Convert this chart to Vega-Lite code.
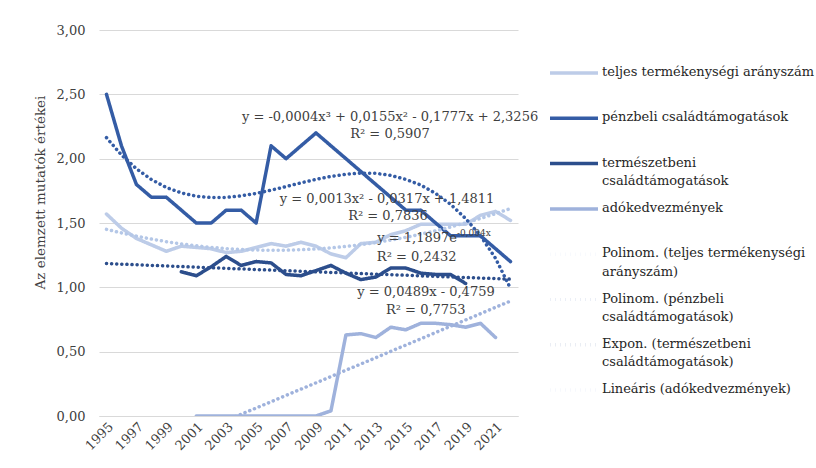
{
  "$schema": "https://vega.github.io/schema/vega-lite/v6.json",
  "width": 419,
  "height": 386,
  "autosize": {"type": "none"},
  "padding": {"left": 99, "top": 30, "right": 298, "bottom": 52},
  "background": "white",
  "config": {
    "view": {"stroke": null},
    "font": "DejaVu Serif"
  },
  "datasets": {
    "lines": [
      {"year": 1995, "value": 1.57, "series": "teljes termékenységi arányszám"},
      {"year": 1996, "value": 1.46, "series": "teljes termékenységi arányszám"},
      {"year": 1997, "value": 1.38, "series": "teljes termékenységi arányszám"},
      {"year": 1998, "value": 1.33, "series": "teljes termékenységi arányszám"},
      {"year": 1999, "value": 1.28, "series": "teljes termékenységi arányszám"},
      {"year": 2000, "value": 1.32, "series": "teljes termékenységi arányszám"},
      {"year": 2001, "value": 1.31, "series": "teljes termékenységi arányszám"},
      {"year": 2002, "value": 1.30, "series": "teljes termékenységi arányszám"},
      {"year": 2003, "value": 1.27, "series": "teljes termékenységi arányszám"},
      {"year": 2004, "value": 1.28, "series": "teljes termékenységi arányszám"},
      {"year": 2005, "value": 1.31, "series": "teljes termékenységi arányszám"},
      {"year": 2006, "value": 1.34, "series": "teljes termékenységi arányszám"},
      {"year": 2007, "value": 1.32, "series": "teljes termékenységi arányszám"},
      {"year": 2008, "value": 1.35, "series": "teljes termékenységi arányszám"},
      {"year": 2009, "value": 1.32, "series": "teljes termékenységi arányszám"},
      {"year": 2010, "value": 1.26, "series": "teljes termékenységi arányszám"},
      {"year": 2011, "value": 1.23, "series": "teljes termékenységi arányszám"},
      {"year": 2012, "value": 1.34, "series": "teljes termékenységi arányszám"},
      {"year": 2013, "value": 1.35, "series": "teljes termékenységi arányszám"},
      {"year": 2014, "value": 1.41, "series": "teljes termékenységi arányszám"},
      {"year": 2015, "value": 1.44, "series": "teljes termékenységi arányszám"},
      {"year": 2016, "value": 1.49, "series": "teljes termékenységi arányszám"},
      {"year": 2017, "value": 1.49, "series": "teljes termékenységi arányszám"},
      {"year": 2018, "value": 1.49, "series": "teljes termékenységi arányszám"},
      {"year": 2019, "value": 1.49, "series": "teljes termékenységi arányszám"},
      {"year": 2020, "value": 1.56, "series": "teljes termékenységi arányszám"},
      {"year": 2021, "value": 1.59, "series": "teljes termékenységi arányszám"},
      {"year": 2022, "value": 1.52, "series": "teljes termékenységi arányszám"},

      {"year": 1995, "value": 2.50, "series": "pénzbeli családtámogatások"},
      {"year": 1996, "value": 2.10, "series": "pénzbeli családtámogatások"},
      {"year": 1997, "value": 1.80, "series": "pénzbeli családtámogatások"},
      {"year": 1998, "value": 1.70, "series": "pénzbeli családtámogatások"},
      {"year": 1999, "value": 1.70, "series": "pénzbeli családtámogatások"},
      {"year": 2000, "value": 1.60, "series": "pénzbeli családtámogatások"},
      {"year": 2001, "value": 1.50, "series": "pénzbeli családtámogatások"},
      {"year": 2002, "value": 1.50, "series": "pénzbeli családtámogatások"},
      {"year": 2003, "value": 1.60, "series": "pénzbeli családtámogatások"},
      {"year": 2004, "value": 1.60, "series": "pénzbeli családtámogatások"},
      {"year": 2005, "value": 1.50, "series": "pénzbeli családtámogatások"},
      {"year": 2006, "value": 2.10, "series": "pénzbeli családtámogatások"},
      {"year": 2007, "value": 2.00, "series": "pénzbeli családtámogatások"},
      {"year": 2008, "value": 2.10, "series": "pénzbeli családtámogatások"},
      {"year": 2009, "value": 2.20, "series": "pénzbeli családtámogatások"},
      {"year": 2010, "value": 2.10, "series": "pénzbeli családtámogatások"},
      {"year": 2011, "value": 2.00, "series": "pénzbeli családtámogatások"},
      {"year": 2012, "value": 1.90, "series": "pénzbeli családtámogatások"},
      {"year": 2013, "value": 1.80, "series": "pénzbeli családtámogatások"},
      {"year": 2014, "value": 1.70, "series": "pénzbeli családtámogatások"},
      {"year": 2015, "value": 1.60, "series": "pénzbeli családtámogatások"},
      {"year": 2016, "value": 1.60, "series": "pénzbeli családtámogatások"},
      {"year": 2017, "value": 1.50, "series": "pénzbeli családtámogatások"},
      {"year": 2018, "value": 1.40, "series": "pénzbeli családtámogatások"},
      {"year": 2019, "value": 1.40, "series": "pénzbeli családtámogatások"},
      {"year": 2020, "value": 1.40, "series": "pénzbeli családtámogatások"},
      {"year": 2021, "value": 1.30, "series": "pénzbeli családtámogatások"},
      {"year": 2022, "value": 1.20, "series": "pénzbeli családtámogatások"},

      {"year": 2000, "value": 1.12, "series": "természetbeni családtámogatások"},
      {"year": 2001, "value": 1.09, "series": "természetbeni családtámogatások"},
      {"year": 2002, "value": 1.16, "series": "természetbeni családtámogatások"},
      {"year": 2003, "value": 1.24, "series": "természetbeni családtámogatások"},
      {"year": 2004, "value": 1.17, "series": "természetbeni családtámogatások"},
      {"year": 2005, "value": 1.20, "series": "természetbeni családtámogatások"},
      {"year": 2006, "value": 1.19, "series": "természetbeni családtámogatások"},
      {"year": 2007, "value": 1.10, "series": "természetbeni családtámogatások"},
      {"year": 2008, "value": 1.09, "series": "természetbeni családtámogatások"},
      {"year": 2009, "value": 1.13, "series": "természetbeni családtámogatások"},
      {"year": 2010, "value": 1.17, "series": "természetbeni családtámogatások"},
      {"year": 2011, "value": 1.11, "series": "természetbeni családtámogatások"},
      {"year": 2012, "value": 1.06, "series": "természetbeni családtámogatások"},
      {"year": 2013, "value": 1.08, "series": "természetbeni családtámogatások"},
      {"year": 2014, "value": 1.15, "series": "természetbeni családtámogatások"},
      {"year": 2015, "value": 1.15, "series": "természetbeni családtámogatások"},
      {"year": 2016, "value": 1.11, "series": "természetbeni családtámogatások"},
      {"year": 2017, "value": 1.10, "series": "természetbeni családtámogatások"},
      {"year": 2018, "value": 1.10, "series": "természetbeni családtámogatások"},
      {"year": 2019, "value": 1.03, "series": "természetbeni családtámogatások"},

      {"year": 2001, "value": 0.00, "series": "adókedvezmények"},
      {"year": 2002, "value": 0.00, "series": "adókedvezmények"},
      {"year": 2003, "value": 0.00, "series": "adókedvezmények"},
      {"year": 2004, "value": 0.00, "series": "adókedvezmények"},
      {"year": 2005, "value": 0.00, "series": "adókedvezmények"},
      {"year": 2006, "value": 0.00, "series": "adókedvezmények"},
      {"year": 2007, "value": 0.00, "series": "adókedvezmények"},
      {"year": 2008, "value": 0.00, "series": "adókedvezmények"},
      {"year": 2009, "value": 0.00, "series": "adókedvezmények"},
      {"year": 2010, "value": 0.04, "series": "adókedvezmények"},
      {"year": 2011, "value": 0.63, "series": "adókedvezmények"},
      {"year": 2012, "value": 0.64, "series": "adókedvezmények"},
      {"year": 2013, "value": 0.61, "series": "adókedvezmények"},
      {"year": 2014, "value": 0.69, "series": "adókedvezmények"},
      {"year": 2015, "value": 0.67, "series": "adókedvezmények"},
      {"year": 2016, "value": 0.72, "series": "adókedvezmények"},
      {"year": 2017, "value": 0.72, "series": "adókedvezmények"},
      {"year": 2018, "value": 0.71, "series": "adókedvezmények"},
      {"year": 2019, "value": 0.69, "series": "adókedvezmények"},
      {"year": 2020, "value": 0.72, "series": "adókedvezmények"},
      {"year": 2021, "value": 0.61, "series": "adókedvezmények"},

      {"year": 1995, "value": 1.4507, "series": "Polinom. (teljes termékenységi arányszám)"},
      {"year": 1996, "value": 1.4229, "series": "Polinom. (teljes termékenységi arányszám)"},
      {"year": 1997, "value": 1.3977, "series": "Polinom. (teljes termékenységi arányszám)"},
      {"year": 1998, "value": 1.3751, "series": "Polinom. (teljes termékenységi arányszám)"},
      {"year": 1999, "value": 1.3551, "series": "Polinom. (teljes termékenységi arányszám)"},
      {"year": 2000, "value": 1.3377, "series": "Polinom. (teljes termékenységi arányszám)"},
      {"year": 2001, "value": 1.3229, "series": "Polinom. (teljes termékenységi arányszám)"},
      {"year": 2002, "value": 1.3107, "series": "Polinom. (teljes termékenységi arányszám)"},
      {"year": 2003, "value": 1.3011, "series": "Polinom. (teljes termékenységi arányszám)"},
      {"year": 2004, "value": 1.2941, "series": "Polinom. (teljes termékenységi arányszám)"},
      {"year": 2005, "value": 1.2897, "series": "Polinom. (teljes termékenységi arányszám)"},
      {"year": 2006, "value": 1.2879, "series": "Polinom. (teljes termékenységi arányszám)"},
      {"year": 2007, "value": 1.2887, "series": "Polinom. (teljes termékenységi arányszám)"},
      {"year": 2008, "value": 1.2921, "series": "Polinom. (teljes termékenységi arányszám)"},
      {"year": 2009, "value": 1.2981, "series": "Polinom. (teljes termékenységi arányszám)"},
      {"year": 2010, "value": 1.3067, "series": "Polinom. (teljes termékenységi arányszám)"},
      {"year": 2011, "value": 1.3179, "series": "Polinom. (teljes termékenységi arányszám)"},
      {"year": 2012, "value": 1.3317, "series": "Polinom. (teljes termékenységi arányszám)"},
      {"year": 2013, "value": 1.3481, "series": "Polinom. (teljes termékenységi arányszám)"},
      {"year": 2014, "value": 1.3671, "series": "Polinom. (teljes termékenységi arányszám)"},
      {"year": 2015, "value": 1.3887, "series": "Polinom. (teljes termékenységi arányszám)"},
      {"year": 2016, "value": 1.4129, "series": "Polinom. (teljes termékenységi arányszám)"},
      {"year": 2017, "value": 1.4397, "series": "Polinom. (teljes termékenységi arányszám)"},
      {"year": 2018, "value": 1.4691, "series": "Polinom. (teljes termékenységi arányszám)"},
      {"year": 2019, "value": 1.5011, "series": "Polinom. (teljes termékenységi arányszám)"},
      {"year": 2020, "value": 1.5357, "series": "Polinom. (teljes termékenységi arányszám)"},
      {"year": 2021, "value": 1.5729, "series": "Polinom. (teljes termékenységi arányszám)"},
      {"year": 2022, "value": 1.6127, "series": "Polinom. (teljes termékenységi arányszám)"},

      {"year": 1995, "value": 2.163, "series": "Polinom. (pénzbeli családtámogatások)"},
      {"year": 1996, "value": 2.029, "series": "Polinom. (pénzbeli családtámogatások)"},
      {"year": 1997, "value": 1.922, "series": "Polinom. (pénzbeli családtámogatások)"},
      {"year": 1998, "value": 1.838, "series": "Polinom. (pénzbeli családtámogatások)"},
      {"year": 1999, "value": 1.776, "series": "Polinom. (pénzbeli családtámogatások)"},
      {"year": 2000, "value": 1.734, "series": "Polinom. (pénzbeli családtámogatások)"},
      {"year": 2001, "value": 1.708, "series": "Polinom. (pénzbeli családtámogatások)"},
      {"year": 2002, "value": 1.698, "series": "Polinom. (pénzbeli családtámogatások)"},
      {"year": 2003, "value": 1.699, "series": "Polinom. (pénzbeli családtámogatások)"},
      {"year": 2004, "value": 1.711, "series": "Polinom. (pénzbeli családtámogatások)"},
      {"year": 2005, "value": 1.730, "series": "Polinom. (pénzbeli családtámogatások)"},
      {"year": 2006, "value": 1.755, "series": "Polinom. (pénzbeli családtámogatások)"},
      {"year": 2007, "value": 1.783, "series": "Polinom. (pénzbeli családtámogatások)"},
      {"year": 2008, "value": 1.812, "series": "Polinom. (pénzbeli családtámogatások)"},
      {"year": 2009, "value": 1.839, "series": "Polinom. (pénzbeli családtámogatások)"},
      {"year": 2010, "value": 1.862, "series": "Polinom. (pénzbeli családtámogatások)"},
      {"year": 2011, "value": 1.879, "series": "Polinom. (pénzbeli családtámogatások)"},
      {"year": 2012, "value": 1.888, "series": "Polinom. (pénzbeli családtámogatások)"},
      {"year": 2013, "value": 1.886, "series": "Polinom. (pénzbeli családtámogatások)"},
      {"year": 2014, "value": 1.870, "series": "Polinom. (pénzbeli családtámogatások)"},
      {"year": 2015, "value": 1.839, "series": "Polinom. (pénzbeli családtámogatások)"},
      {"year": 2016, "value": 1.795, "series": "Polinom. (pénzbeli családtámogatások)"},
      {"year": 2017, "value": 1.730, "series": "Polinom. (pénzbeli családtámogatások)"},
      {"year": 2018, "value": 1.645, "series": "Polinom. (pénzbeli családtámogatások)"},
      {"year": 2019, "value": 1.535, "series": "Polinom. (pénzbeli családtámogatások)"},
      {"year": 2020, "value": 1.400, "series": "Polinom. (pénzbeli családtámogatások)"},
      {"year": 2021, "value": 1.225, "series": "Polinom. (pénzbeli családtámogatások)"},
      {"year": 2022, "value": 0.991, "series": "Polinom. (pénzbeli családtámogatások)"},

      {"year": 1995, "value": 1.1850, "series": "Expon. (természetbeni családtámogatások)"},
      {"year": 1996, "value": 1.1802, "series": "Expon. (természetbeni családtámogatások)"},
      {"year": 1997, "value": 1.1755, "series": "Expon. (természetbeni családtámogatások)"},
      {"year": 1998, "value": 1.1708, "series": "Expon. (természetbeni családtámogatások)"},
      {"year": 1999, "value": 1.1661, "series": "Expon. (természetbeni családtámogatások)"},
      {"year": 2000, "value": 1.1615, "series": "Expon. (természetbeni családtámogatások)"},
      {"year": 2001, "value": 1.1569, "series": "Expon. (természetbeni családtámogatások)"},
      {"year": 2002, "value": 1.1522, "series": "Expon. (természetbeni családtámogatások)"},
      {"year": 2003, "value": 1.1476, "series": "Expon. (természetbeni családtámogatások)"},
      {"year": 2004, "value": 1.1431, "series": "Expon. (természetbeni családtámogatások)"},
      {"year": 2005, "value": 1.1385, "series": "Expon. (természetbeni családtámogatások)"},
      {"year": 2006, "value": 1.1339, "series": "Expon. (természetbeni családtámogatások)"},
      {"year": 2007, "value": 1.1294, "series": "Expon. (természetbeni családtámogatások)"},
      {"year": 2008, "value": 1.1249, "series": "Expon. (természetbeni családtámogatások)"},
      {"year": 2009, "value": 1.1204, "series": "Expon. (természetbeni családtámogatások)"},
      {"year": 2010, "value": 1.1159, "series": "Expon. (természetbeni családtámogatások)"},
      {"year": 2011, "value": 1.1115, "series": "Expon. (természetbeni családtámogatások)"},
      {"year": 2012, "value": 1.1071, "series": "Expon. (természetbeni családtámogatások)"},
      {"year": 2013, "value": 1.1026, "series": "Expon. (természetbeni családtámogatások)"},
      {"year": 2014, "value": 1.0982, "series": "Expon. (természetbeni családtámogatások)"},
      {"year": 2015, "value": 1.0939, "series": "Expon. (természetbeni családtámogatások)"},
      {"year": 2016, "value": 1.0895, "series": "Expon. (természetbeni családtámogatások)"},
      {"year": 2017, "value": 1.0851, "series": "Expon. (természetbeni családtámogatások)"},
      {"year": 2018, "value": 1.0808, "series": "Expon. (természetbeni családtámogatások)"},
      {"year": 2019, "value": 1.0765, "series": "Expon. (természetbeni családtámogatások)"},
      {"year": 2020, "value": 1.0722, "series": "Expon. (természetbeni családtámogatások)"},
      {"year": 2021, "value": 1.0679, "series": "Expon. (természetbeni családtámogatások)"},
      {"year": 2022, "value": 1.0636, "series": "Expon. (természetbeni családtámogatások)"},

      {"year": 2003, "value": -0.0358, "series": "Lineáris (adókedvezmények)"},
      {"year": 2004, "value": 0.0131, "series": "Lineáris (adókedvezmények)"},
      {"year": 2005, "value": 0.0620, "series": "Lineáris (adókedvezmények)"},
      {"year": 2006, "value": 0.1109, "series": "Lineáris (adókedvezmények)"},
      {"year": 2007, "value": 0.1598, "series": "Lineáris (adókedvezmények)"},
      {"year": 2008, "value": 0.2087, "series": "Lineáris (adókedvezmények)"},
      {"year": 2009, "value": 0.2576, "series": "Lineáris (adókedvezmények)"},
      {"year": 2010, "value": 0.3065, "series": "Lineáris (adókedvezmények)"},
      {"year": 2011, "value": 0.3554, "series": "Lineáris (adókedvezmények)"},
      {"year": 2012, "value": 0.4043, "series": "Lineáris (adókedvezmények)"},
      {"year": 2013, "value": 0.4532, "series": "Lineáris (adókedvezmények)"},
      {"year": 2014, "value": 0.5021, "series": "Lineáris (adókedvezmények)"},
      {"year": 2015, "value": 0.5510, "series": "Lineáris (adókedvezmények)"},
      {"year": 2016, "value": 0.5999, "series": "Lineáris (adókedvezmények)"},
      {"year": 2017, "value": 0.6488, "series": "Lineáris (adókedvezmények)"},
      {"year": 2018, "value": 0.6977, "series": "Lineáris (adókedvezmények)"},
      {"year": 2019, "value": 0.7466, "series": "Lineáris (adókedvezmények)"},
      {"year": 2020, "value": 0.7955, "series": "Lineáris (adókedvezmények)"},
      {"year": 2021, "value": 0.8444, "series": "Lineáris (adókedvezmények)"},
      {"year": 2022, "value": 0.8933, "series": "Lineáris (adókedvezmények)"}
    ],
    "notes": [
      {"year": 2013.95, "value": 2.326, "label": "y = -0,0004x³ + 0,0155x² - 0,1777x + 2,3256"},
      {"year": 2013.95, "value": 2.192, "label": "R² = 0,5907"},
      {"year": 2013.75, "value": 1.689, "label": "y = 0,0013x² - 0,0317x + 1,4811"},
      {"year": 2013.81, "value": 1.554, "label": "R² = 0,7836"},
      {"year": 2015.73, "value": 1.238, "label": "R² = 0,2432"},
      {"year": 2016.35, "value": 0.966, "label": "y = 0,0489x - 0,4759"},
      {"year": 2016.34, "value": 0.824, "label": "R² = 0,7753"}
    ],
    "expBase": [
      {"year": 2018.42, "value": 1.381, "label": "y = 1,1897e"}
    ],
    "expSup": [
      {"year": 2018.42, "value": 1.381, "label": "-0,004x"}
    ]
  },
  "layer": [
    {
      "data": {"name": "lines"},
      "mark": {"type": "line", "clip": true, "strokeCap": "round", "strokeJoin": "round"},
      "encoding": {
        "x": {
          "field": "year", "type": "quantitative",
          "scale": {"domain": [1994.5, 2022.5], "nice": false, "zero": false},
          "axis": {
            "values": [1995, 1997, 1999, 2001, 2003, 2005, 2007, 2009, 2011, 2013, 2015, 2017, 2019, 2021],
            "tickCount": 40,
            "format": "d", "labelAngle": -45, "grid": false, "ticks": false,
            "domainColor": "#d9d9d9", "domainWidth": 1,
            "labelFont": "DejaVu Serif", "labelFontSize": 13, "labelColor": "#404040",
            "labelPadding": 4, "title": null, "labelOverlap": false
          }
        },
        "y": {
          "field": "value", "type": "quantitative",
          "scale": {"domain": [0, 3], "nice": false},
          "axis": {
            "values": [0, 0.5, 1, 1.5, 2, 2.5, 3],
            "labelExpr": "replace(format(datum.value, '.2f'), '.', ',')",
            "domain": false, "ticks": false,
            "gridColor": "#d9d9d9", "gridWidth": 1,
            "labelFont": "DejaVu Serif", "labelFontSize": 13, "labelColor": "#404040",
            "labelPadding": 14,
            "title": "Az elemzett mutatók értékei",
            "titleFont": "DejaVu Serif", "titleFontSize": 13.5, "titleFontWeight": "normal",
            "titleColor": "#404040", "titleX": -59, "titleY": 162,
            "titleAlign": "center", "titleBaseline": "middle"
          }
        },
        "color": {
          "field": "series", "type": "nominal",
          "scale": {
            "domain": ["teljes termékenységi arányszám", "pénzbeli családtámogatások", "természetbeni családtámogatások", "adókedvezmények", "Polinom. (teljes termékenységi arányszám)", "Polinom. (pénzbeli családtámogatások)", "Expon. (természetbeni családtámogatások)", "Lineáris (adókedvezmények)"],
            "range": ["#bdcce8", "#345ca5", "#2c4e8c", "#9fb2dc", "#b4c7e7", "#345ca5", "#2c4e8c", "#9fb2dc"]
          },
          "legend": {
            "orient": "none", "legendX": 461, "legendY": 29,
            "title": null, "padding": 0,
            "symbolType": "M-2,0H2", "symbolSize": 576, "symbolStrokeWidth": 3.5,
            "labelFont": "DejaVu Serif", "labelFontSize": 13, "labelColor": "#262626",
            "labelOffset": 14, "labelLimit": 400, "rowPadding": 6.3, "labelBaseline": "top",
            "labelExpr": "datum.label == 'természetbeni családtámogatások' ? ['természetbeni', 'családtámogatások'] : datum.label == 'Polinom. (teljes termékenységi arányszám)' ? ['Polinom. (teljes termékenységi', 'arányszám)'] : datum.label == 'Polinom. (pénzbeli családtámogatások)' ? ['Polinom. (pénzbeli', 'családtámogatások)'] : datum.label == 'Expon. (természetbeni családtámogatások)' ? ['Expon. (természetbeni', 'családtámogatások)'] : [datum.label, ' ']",
            "encode": {
              "labels": {"update": {"lineHeight": {"value": 18.5}, "dy": {"value": -7}}}
            }
          }
        },
        "strokeDash": {
          "field": "series", "type": "nominal",
          "scale": {
            "domain": ["teljes termékenységi arányszám", "pénzbeli családtámogatások", "természetbeni családtámogatások", "adókedvezmények", "Polinom. (teljes termékenységi arányszám)", "Polinom. (pénzbeli családtámogatások)", "Expon. (természetbeni családtámogatások)", "Lineáris (adókedvezmények)"],
            "range": [[1, 0], [1, 0], [1, 0], [1, 0], [0.1, 5], [0.1, 5], [0.1, 5], [0.1, 5]]
          },
          "legend": null
        },
        "strokeWidth": {
          "field": "series", "type": "nominal",
          "scale": {
            "domain": ["teljes termékenységi arányszám", "pénzbeli családtámogatások", "természetbeni családtámogatások", "adókedvezmények", "Polinom. (teljes termékenységi arányszám)", "Polinom. (pénzbeli családtámogatások)", "Expon. (természetbeni családtámogatások)", "Lineáris (adókedvezmények)"],
            "range": [3.5, 3.5, 3.5, 3.5, 2.5, 2.5, 2.5, 2.5]
          },
          "legend": null
        }
      }
    },
    {
      "data": {"name": "notes"},
      "mark": {"type": "text", "font": "DejaVu Serif", "fontSize": 13, "color": "#404040", "align": "center", "baseline": "middle"},
      "encoding": {
        "x": {"field": "year", "type": "quantitative"},
        "y": {"field": "value", "type": "quantitative"},
        "text": {"field": "label"}
      }
    },
    {
      "data": {"name": "expBase"},
      "mark": {"type": "text", "font": "DejaVu Serif", "fontSize": 13, "color": "#404040", "align": "right", "baseline": "middle"},
      "encoding": {
        "x": {"field": "year", "type": "quantitative"},
        "y": {"field": "value", "type": "quantitative"},
        "text": {"field": "label"}
      }
    },
    {
      "data": {"name": "expSup"},
      "mark": {"type": "text", "font": "DejaVu Serif", "fontSize": 9, "color": "#404040", "align": "left", "baseline": "middle", "dy": -5},
      "encoding": {
        "x": {"field": "year", "type": "quantitative"},
        "y": {"field": "value", "type": "quantitative"},
        "text": {"field": "label"}
      }
    }
  ]
}
